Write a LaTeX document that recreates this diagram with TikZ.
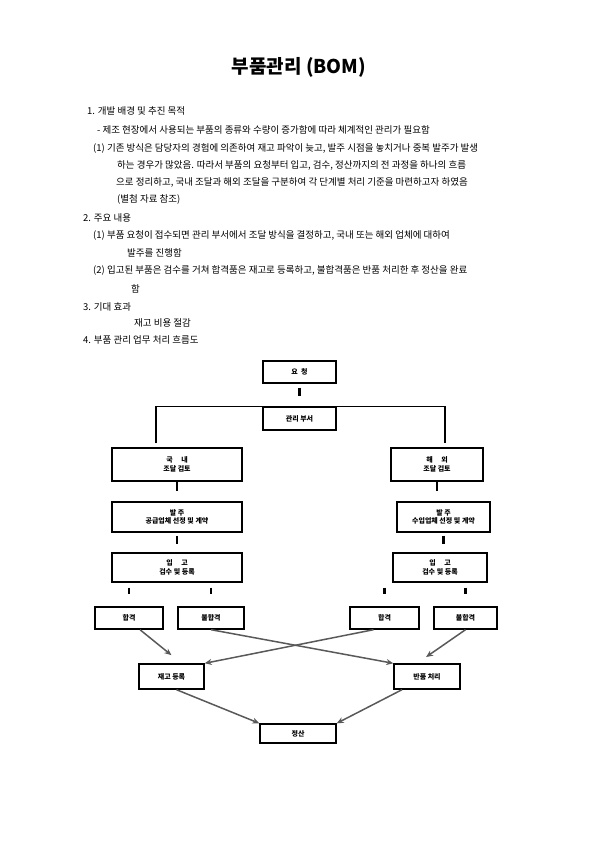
\documentclass[tikz,border=0pt]{standalone}
\usepackage{fontspec}
\setmainfont{Noto Sans CJK KR}
\usetikzlibrary{arrows.meta, positioning}

\begin{document}
\begin{tikzpicture}[
    x=1pt, y=-1pt,
    box/.style={draw, line width=1.4pt, inner sep=1pt, align=center, font=\fontsize{7}{8.5}\selectfont\bfseries},
    txt/.style={anchor=west, inner sep=0pt, font=\fontsize{9.5}{11}\selectfont},
    tick/.style={line width=2.6pt},
    branch/.style={line width=1.4pt},
    arr/.style={-{Stealth[length=7pt, width=6pt]}, line width=1.5pt, black!65},
]
\useasboundingbox (0,0) rectangle (595,842);

% Title
\node[font=\fontsize{19}{21}\selectfont\bfseries] (title) at (299,67) {부품관리 (BOM)};

% Section 1
\node[txt] (s1) at (87,111) {1. 개발 배경 및 추진 목적};
\node[txt] (s1a) at (97,130) {- 제조 현장에서 사용되는 부품의 종류와 수량이 증가함에 따라 체계적인 관리가 필요함};
\node[txt] (s1b) at (93,148) {(1) 기존 방식은 담당자의 경험에 의존하여 재고 파악이 늦고, 발주 시점을 놓치거나 중복 발주가 발생};
\node[txt] (s1c) at (117,165) {하는 경우가 많았음. 따라서 부품의 요청부터 입고, 검수, 정산까지의 전 과정을 하나의 흐름};
\node[txt] (s1d) at (116,182) {으로 정리하고, 국내 조달과 해외 조달을 구분하여 각 단계별 처리 기준을 마련하고자 하였음};
\node[txt] (s1e) at (117,199) {(별첨 자료 참조)};

% Section 2
\node[txt] (s2) at (83,218) {2. 주요 내용};
\node[txt] (s2a) at (93,235) {(1) 부품 요청이 접수되면 관리 부서에서 조달 방식을 결정하고, 국내 또는 해외 업체에 대하여};
\node[txt] (s2b) at (127,253) {발주를 진행함};
\node[txt] (s2c) at (93,270) {(2) 입고된 부품은 검수를 거쳐 합격품은 재고로 등록하고, 불합격품은 반품 처리한 후 정산을 완료};
\node[txt] (s2d) at (131,289) {함};

% Section 3
\node[txt] (s3) at (83,307) {3. 기대 효과};
\node[txt] (s3a) at (134,323) {재고 비용 절감};

% Section 4
\node[txt] (s4) at (83,340) {4. 부품 관리 업무 처리 흐름도};

% Flow: top
\node[box, minimum width=73pt, minimum height=22pt] (req) at (299.5,372) {요 \ 청};
\node[box, fill=white, minimum width=73pt, minimum height=23pt] (dept) at (299.5,418.5) {관리 부서};

% Flow: left column
\node[box, minimum width=130pt, minimum height=33pt] (dom) at (177,464.5) {국 \quad 내\\조달 검토};
\node[box, minimum width=130pt, minimum height=30pt] (domord) at (177,517) {발 주\\공급업체 선정 및 계약};
\node[box, minimum width=130pt, minimum height=29pt] (domin) at (177,567.5) {입 \quad 고\\검수 및 등록};

% Flow: right column
\node[box, minimum width=92pt, minimum height=33pt] (imp) at (437,464.5) {해 \quad 외\\조달 검토};
\node[box, minimum width=93pt, minimum height=30pt] (impord) at (443.5,517) {발 주\\수입업체 선정 및 계약};
\node[box, minimum width=94pt, minimum height=29pt] (impin) at (440,567.5) {입 \quad 고\\검수 및 등록};

% Flow: inspection results
\node[box, minimum width=68pt, minimum height=22pt] (passL) at (129,618) {합격};
\node[box, minimum width=66pt, minimum height=22pt] (failL) at (211,618) {불합격};
\node[box, minimum width=69pt, minimum height=22pt] (passR) at (384.5,618) {합격};
\node[box, minimum width=63pt, minimum height=22pt] (failR) at (465.5,618) {불합격};

% Flow: stock / return
\node[box, minimum width=65pt, minimum height=25pt] (stock) at (171.5,676.5) {재고 등록};
\node[box, minimum width=66pt, minimum height=25pt] (ret) at (427,676.5) {반품 처리};

% Flow: end
\node[box, minimum width=76pt, minimum height=19pt] (settle) at (298,733.5) {정산};

% === CONNECTORS ===
\draw[tick, shorten <=4pt, shorten >=10pt] (req) -- (dept);
\draw[branch, shorten <=4pt, shorten >=4pt] ([xshift=-21pt]dom.north) |- (dept.north) -| ([xshift=8pt]imp.north);

\draw[tick, shorten >=10pt] (dom.south) -- (domord.north);
\draw[tick, shorten <=3pt, shorten >=8pt] (domord.south) -- (domin.north);
\draw[tick, shorten >=10pt] (imp.south) -- (imp.south |- impord.north);
\draw[tick, shorten <=3pt, shorten >=8pt] (impord.south) -- (impord.south |- impin.north);

\draw[tick, shorten <=5pt, shorten >=12pt] (passL.north |- domin.south) -- (passL.north);
\draw[tick, shorten <=5pt, shorten >=12pt] (failL.north |- domin.south) -- (failL.north);
\draw[tick, shorten <=5pt, shorten >=12pt] (passR.north |- impin.south) -- (passR.north);
\draw[tick, shorten <=5pt, shorten >=12pt] (failR.north |- impin.south) -- (failR.north);

% === ARROWS ===
\draw[arr, shorten >=13pt] ([xshift=11pt]passL.south) -- ([xshift=10pt]stock.north);
\draw[arr] (failL.south) -- (ret.north west);
\draw[arr] ([xshift=-11pt]passR.south) -- (stock.north east);
\draw[arr, shorten >=11pt] (failR.south) -- ([xshift=-10pt]ret.north);
\draw[arr] ([xshift=5pt]stock.south) -- (settle.north west);
\draw[arr] ([xshift=-25pt]ret.south) -- (settle.north east);

\end{tikzpicture}
\end{document}
